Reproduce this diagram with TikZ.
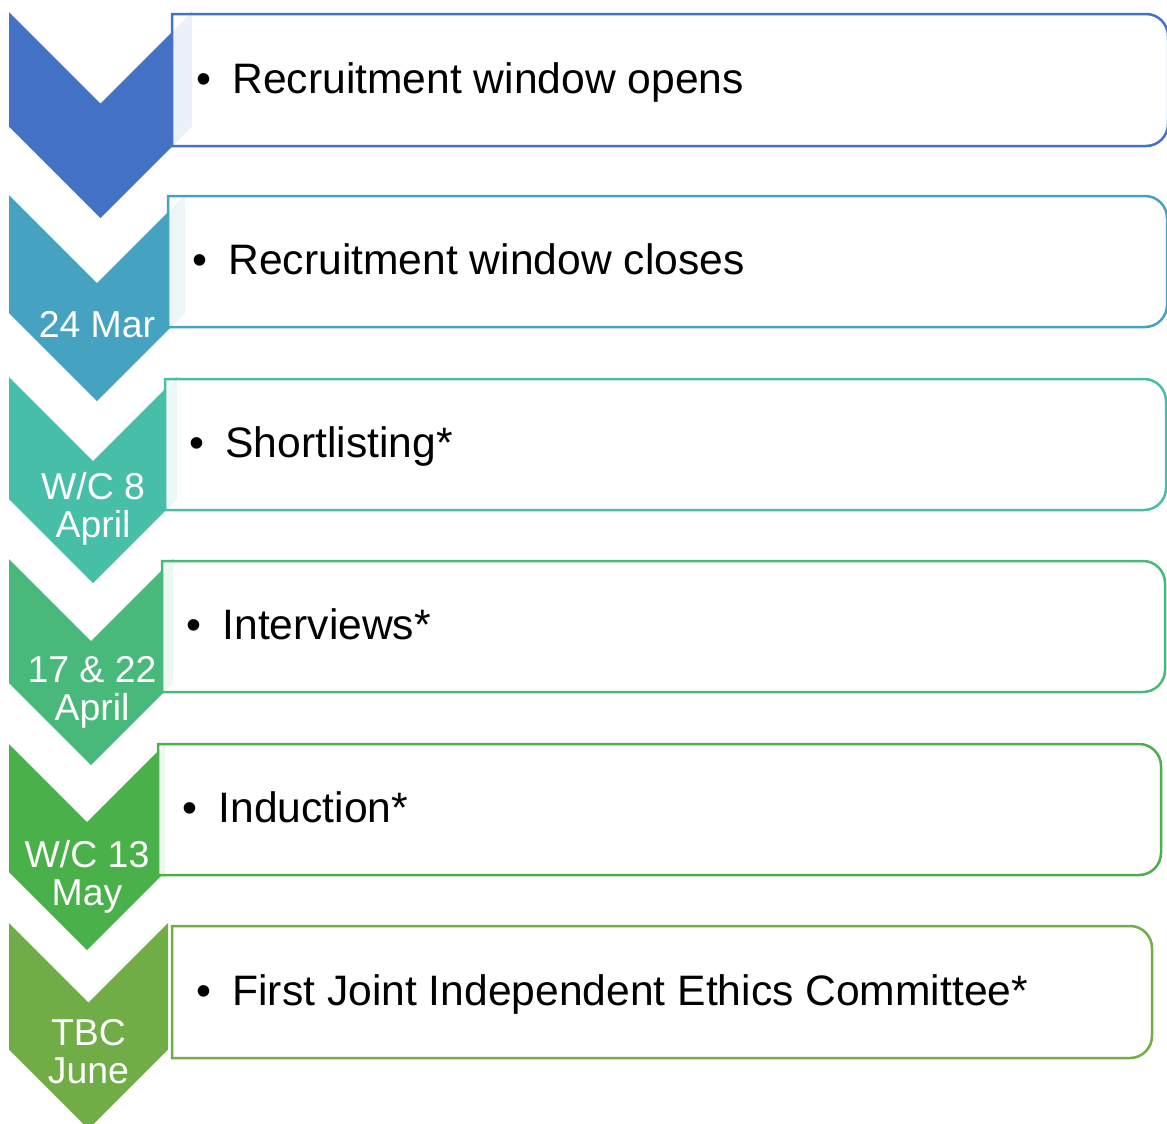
\documentclass[tikz,border=0pt]{standalone}
\usepackage{fontspec}
\setmainfont{Liberation Sans}
\usepackage{tikz}
\definecolor{azul}{RGB}{68, 114, 196}
\definecolor{cian}{RGB}{69, 163, 193}
\definecolor{turquesa}{RGB}{71, 190, 168}
\definecolor{jade}{RGB}{72, 185, 122}
\definecolor{verde}{RGB}{74, 177, 74}
\definecolor{oliva}{RGB}{112, 173, 71}
\tikzset{
    chev/.style={fill=#1, draw=none},
    slot/.style={draw=#1, line width=1.25pt, fill=white, fill opacity=0.9},
    fecha/.style={anchor=base, inner sep=0pt, text=white, align=center, font=\fontsize{18.7}{19}\selectfont},
    item/.style={anchor=base west, inner sep=0pt, font=\fontsize{21.3}{25}\selectfont},
}
\begin{document}
\begin{tikzpicture}[x=0.5pt, y=-0.5pt]
    \useasboundingbox (0,0) rectangle (1167,1124);
    \clip (0,0) rectangle (1167,1124);

    % first step
    \fill[chev=azul] (9,12) -- (100.5,103.5) -- (192,12) -- (192,126.5) -- (100.5,218) -- (9,126.5) -- cycle;
    \draw[slot=azul] (172,14) -- (1146,14) arc[start angle=90, end angle=0, radius=11pt]
        -- (1168,124) arc[start angle=0, end angle=-90, radius=11pt] -- (172,146) -- cycle;
    \node[item] (t1) at (195.6,93) {\textbullet\hspace{10.8pt}Recruitment window opens};

    % second step
    \fill[chev=cian] (9,195) -- (97,283) -- (185,195) -- (185,313) -- (97,401) -- (9,313) -- cycle;
    \draw[slot=cian] (168,196) -- (1145,196) arc[start angle=90, end angle=0, radius=11pt]
        -- (1167,305) arc[start angle=0, end angle=-90, radius=11pt] -- (168,327) -- cycle;
    \node[fecha] (d2) at (97,337) {24 Mar};
    \node[item] (t2) at (191.6,274.5) {\textbullet\hspace{10.8pt}Recruitment window closes};

    % third step
    \fill[chev=turquesa] (9,377) -- (93,461) -- (177,377) -- (177,499) -- (93,583) -- (9,499) -- cycle;
    \draw[slot=turquesa] (165,379) -- (1144,379) arc[start angle=90, end angle=0, radius=11pt]
        -- (1166,488) arc[start angle=0, end angle=-90, radius=11pt] -- (165,510) -- cycle;
    \node[fecha] (d3) at (93,537) {W/C 8\\April};
    \node[item] (t3) at (188.6,457.5) {\textbullet\hspace{10.8pt}Shortlisting*};

    % fourth step
    \fill[chev=jade] (9,559) -- (91,641) -- (173,559) -- (173,683) -- (91,765) -- (9,683) -- cycle;
    \draw[slot=jade] (162,561) -- (1143,561) arc[start angle=90, end angle=0, radius=11pt]
        -- (1165,670) arc[start angle=0, end angle=-90, radius=11pt] -- (162,692) -- cycle;
    \node[fecha] (d4) at (92,720) {17 \& 22\\April};
    \node[item] (t4) at (185.6,639) {\textbullet\hspace{10.8pt}Interviews*};

    % fifth step
    \fill[chev=verde] (9,744) -- (87,822) -- (165,744) -- (165,872) -- (87,950) -- (9,872) -- cycle;
    \draw[slot=verde] (158,744) -- (1139,744) arc[start angle=90, end angle=0, radius=11pt]
        -- (1161,853) arc[start angle=0, end angle=-90, radius=11pt] -- (158,875) -- cycle;
    \node[fecha] (d5) at (87,905) {W/C 13\\May};
    \node[item] (t5) at (181.6,822.5) {\textbullet\hspace{10.8pt}Induction*};

    % sixth step
    \fill[chev=oliva] (9,923) -- (88.5,1002.5) -- (168,923) -- (168,1049.5) -- (88.5,1129) -- (9,1049.5) -- cycle;
    \draw[slot=oliva] (172,926) -- (1130,926) arc[start angle=90, end angle=0, radius=11pt]
        -- (1152,1036) arc[start angle=0, end angle=-90, radius=11pt] -- (172,1058) -- cycle;
    \node[fecha] (d6) at (88.5,1083) {TBC\\June};
    \node[item] (t6) at (195.6,1005) {\textbullet\hspace{10.8pt}First Joint Independent Ethics Committee*};
\end{tikzpicture}
\end{document}
